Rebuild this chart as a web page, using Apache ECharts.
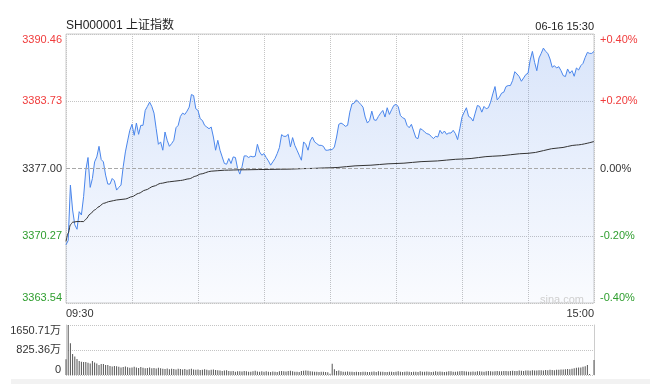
<!DOCTYPE html>
<html><head><meta charset="utf-8">
<script src="https://cdn.jsdelivr.net/npm/echarts@6/dist/echarts.min.js"></script>
<style>html,body{margin:0;padding:0;background:#fff}#c{width:650px;height:384px}</style>
</head><body><div id="c"></div>
<script>
// ---- data (minute index 0 = 09:30, 120 = 11:30/13:00, 240 = 15:00) ----
const prices = [
3369.36,3369.80,3375.34,3372.85,3371.36,3370.92,3372.68,3372.35,3374.18,3376.83,
3378.10,3375.11,3376.00,3377.66,3378.16,3379.22,3377.90,3377.66,3376.34,3375.44,
3375.44,3376.00,3375.77,3374.84,3375.11,3375.34,3377.17,3378.66,3379.76,3380.82,
3381.42,3380.32,3381.55,3380.42,3381.32,3381.32,3382.81,3383.21,3383.64,3383.21,
3382.54,3380.98,3379.42,3379.66,3378.83,3380.65,3379.82,3379.22,3379.49,3379.82,
3381.08,3381.32,3382.21,3382.54,3382.41,3382.74,3383.14,3384.40,3384.30,3382.98,
3382.81,3381.98,3381.81,3381.32,3381.15,3380.98,3381.15,3380.15,3378.83,3379.82,
3378.83,3378.16,3377.50,3377.43,3378.00,3377.50,3378.16,3378.10,3377.00,3376.44,
3377.17,3378.26,3378.26,3378.10,3378.23,3378.16,3378.23,3379.42,3378.66,3378.33,
3378.49,3378.10,3377.76,3377.33,3377.66,3378.00,3378.49,3379.09,3380.39,3380.22,
3380.22,3380.42,3379.16,3380.09,3379.32,3378.83,3378.33,3377.83,3379.66,3379.42,
3378.83,3379.76,3380.15,3379.66,3379.49,3379.32,3379.32,3379.22,3378.83,3378.83,
3378.89,3378.89,3379.16,3380.15,3381.42,3381.55,3381.42,3381.22,3381.32,3382.64,
3383.47,3383.54,3383.87,3383.64,3383.41,3383.14,3382.15,3381.55,3381.81,3382.74,
3381.88,3381.81,3382.21,3382.54,3382.81,3382.15,3383.08,3382.41,3382.88,3383.31,
3383.41,3383.21,3382.31,3382.08,3381.98,3381.32,3381.08,3381.42,3380.75,3380.09,
3379.99,3380.98,3380.88,3380.65,3380.49,3380.42,3380.22,3379.99,3380.22,3380.15,
3380.82,3380.49,3380.75,3380.42,3380.55,3380.55,3380.82,3380.49,3379.89,3380.98,
3382.15,3382.64,3383.08,3382.21,3382.08,3381.75,3382.54,3383.31,3383.21,3382.64,
3383.21,3382.98,3383.08,3383.64,3384.47,3385.20,3383.87,3384.14,3384.54,3384.64,
3385.20,3385.30,3385.30,3385.80,3386.69,3386.46,3386.20,3385.73,3386.06,3386.40,
3386.53,3387.86,3388.72,3387.62,3386.79,3388.06,3388.52,3389.05,3388.72,3388.52,
3387.96,3387.13,3387.29,3387.06,3387.19,3386.79,3386.30,3386.20,3386.96,3386.53,
3386.79,3386.23,3387.06,3386.86,3387.29,3387.52,3388.12,3388.62,3388.52,3388.52,
3388.72
];
const avgMinutes = [0,1,2,3,5,8,9,11,13,15,17,20,23,27,30,33,36,40,43,47,52,56,59,61,66,72,80,90,100,110,120,135,150,165,181,194,210,224,232,240];
const avgPrices = [3369.70,3370.53,3371.36,3371.62,3371.69,3371.69,3371.92,3372.45,3372.85,3373.18,3373.51,3373.71,3373.85,3373.95,3374.18,3374.51,3374.84,3375.24,3375.51,3375.67,3375.80,3375.97,3376.24,3376.44,3376.73,3376.83,3376.87,3376.90,3376.93,3377.00,3377.07,3377.30,3377.50,3377.72,3377.96,3378.23,3378.52,3379.06,3379.35,3379.70];
const volumes = [
518,1650.71,1046,693,614,528,462,440,430,430,
407,380,460,410,380,330,360,365,330,330,
300,280,300,285,270,250,265,280,255,240,
250,270,245,230,260,240,225,235,250,220,
230,215,240,225,210,200,215,190,205,200,
185,210,195,180,200,175,190,205,185,170,
180,165,175,190,170,160,175,185,165,155,
150,135,145,155,130,120,135,110,125,120,
115,130,125,110,105,120,140,115,110,125,
110,120,105,100,115,110,100,125,130,120,
115,130,140,125,110,105,100,130,140,145,
140,120,115,110,105,100,110,105,95,90,
40,370,190,130,150,120,110,105,115,110,
105,100,110,100,95,105,110,100,95,110,
115,100,120,105,110,100,95,105,110,100,
110,120,105,100,110,115,105,100,110,105,
100,120,110,105,115,110,100,105,120,110,
115,105,100,110,120,125,110,105,115,120,
130,120,115,110,105,115,110,120,125,115,
110,120,130,125,115,120,130,125,120,130,
135,125,130,140,135,130,145,140,135,150,
145,140,155,150,145,160,155,150,165,160,
170,165,160,175,170,180,180,190,200,190,
210,220,240,250,250,270,290,330,30,0,
495
];
const priceTickLabels = ['3363.54','3370.27','3377.00','3383.73','3390.46'];
const pctTickLabels = ['-0.40%','-0.20%','0.00%','+0.20%','+0.40%'];
const volTickLabels = ['0','825.36万','1650.71万'];
const timeTickLabels = ['09:30','','','','','','','','15:00'];
const prevClose = 3377.00;
const titleText = 'SH000001 上证指数';
const dateText = '06-16 15:30';

// ---- chart ----
const FONT = "'Liberation Sans', Arial, 'Noto Sans CJK SC', sans-serif";
const RED = '#f03c3c', GREEN = '#2f9e2f', DARK = '#333';
const tone = ['g','g','k','r','r'];
const rich = { r:{color:RED,fontSize:11,fontFamily:FONT}, g:{color:GREEN,fontSize:11,fontFamily:FONT}, k:{color:DARK,fontSize:11,fontFamily:FONT} };
const dotted = {color:'#c4c4c4', type:[1,1], width:1};

const chart = echarts.init(document.getElementById('c'), null, {renderer:'canvas'});
chart.setOption({
  backgroundColor:'#fff',
  animation:false,
  textStyle:{fontFamily:FONT},
  title:[
    {text:titleText, left:66, top:20, padding:0, textStyle:{fontSize:12, fontWeight:'normal', color:'#222', fontFamily:FONT}},
    {text:dateText, right:56, top:21, padding:0, textStyle:{fontSize:11, fontWeight:'normal', color:'#222', fontFamily:FONT}},
    {text:'sina.com', right:66, top:294, padding:0, textStyle:{fontSize:11, fontWeight:'normal', color:'#cfcfcf', fontFamily:FONT}}
  ],
  graphic:[{type:'rect', shape:{x:11, y:379, width:639, height:5}, style:{fill:'#f2f2f2'}, silent:true}],
  grid:[
    {left:66, right:56, top:34, height:269, show:true, borderColor:'#cccccc', borderWidth:1, backgroundColor:'transparent'},
    {left:66, right:56, top:325, height:50}
  ],
  xAxis:[
    {type:'value', gridIndex:0, min:0, max:240, interval:30,
     axisLine:{show:false}, axisTick:{show:false},
     splitLine:{show:true, lineStyle:dotted},
     axisLabel:{show:true, margin:5, color:DARK, fontSize:11, fontFamily:FONT,
       alignMinLabel:'left', alignMaxLabel:'right',
       formatter:(v,i)=>timeTickLabels[Math.round(v/30)] || ''}},
    {type:'value', gridIndex:1, min:0, max:240, interval:30,
     axisLine:{show:false}, axisTick:{show:false}, splitLine:{show:false}, axisLabel:{show:false}}
  ],
  yAxis:[
    {type:'value', gridIndex:0, min:3363.54, max:3390.46, interval:6.73, position:'left',
     axisLine:{show:false}, axisTick:{show:false},
     splitLine:{show:true, lineStyle:{color:['#c4c4c4','#c4c4c4','rgba(0,0,0,0)','#c4c4c4','#c4c4c4'], type:[1,1], width:1}},
     axisLabel:{margin:4, verticalAlignMinLabel:'bottom', verticalAlignMaxLabel:'top', rich:rich,
       formatter:(v,i)=>'{'+tone[i]+'|'+priceTickLabels[i]+'}'}},
    {type:'value', gridIndex:0, min:3363.54, max:3390.46, interval:6.73, position:'right',
     axisLine:{show:false}, axisTick:{show:false}, splitLine:{show:false},
     axisLabel:{margin:6, verticalAlignMinLabel:'bottom', verticalAlignMaxLabel:'top', rich:rich,
       formatter:(v,i)=>'{'+tone[i]+'|'+pctTickLabels[i]+'}'}},
    {type:'value', gridIndex:1, min:0, max:1650.71, interval:825.355, position:'left',
     axisLine:{show:true, lineStyle:{color:'#cccccc'}}, axisTick:{show:false},
     splitLine:{show:true, lineStyle:dotted},
     axisLabel:{margin:5, color:DARK, fontSize:11, fontFamily:FONT, verticalAlignMinLabel:'bottom', verticalAlignMaxLabel:'top',
       formatter:(v,i)=>volTickLabels[i]}},
    {type:'value', gridIndex:1, min:0, max:1650.71, interval:825.355, position:'right',
     axisLine:{show:true, lineStyle:{color:'#cccccc'}}, axisTick:{show:false}, splitLine:{show:false}, axisLabel:{show:false}}
  ],
  series:[
    {type:'line', xAxisIndex:0, yAxisIndex:0, data:prices.map((v,i)=>[i,v]),
     showSymbol:false, symbol:'none', lineStyle:{color:'#4a86ec', width:1},
     areaStyle:{origin:'start', color:new echarts.graphic.LinearGradient(0,0,0,1,[{offset:0,color:'rgba(60,120,230,0.27)'},{offset:1,color:'rgba(60,120,230,0.04)'}])},
     markLine:{silent:true, symbol:'none', label:{show:false}, lineStyle:{color:'#a8a8a8', type:[4,2], width:1}, data:[{yAxis:prevClose}]},
     z:3},
    {type:'line', xAxisIndex:0, yAxisIndex:0, data:avgMinutes.map((m,i)=>[m,avgPrices[i]]),
     showSymbol:false, symbol:'none', smooth:0.3, smoothMonotone:'x', lineStyle:{color:'#333', width:1}, z:4},
    {type:'bar', xAxisIndex:1, yAxisIndex:2, data:volumes.map((v,i)=>[i,v]), barWidth:1, itemStyle:{color:'#555'}}
  ]
});
</script></body></html>
